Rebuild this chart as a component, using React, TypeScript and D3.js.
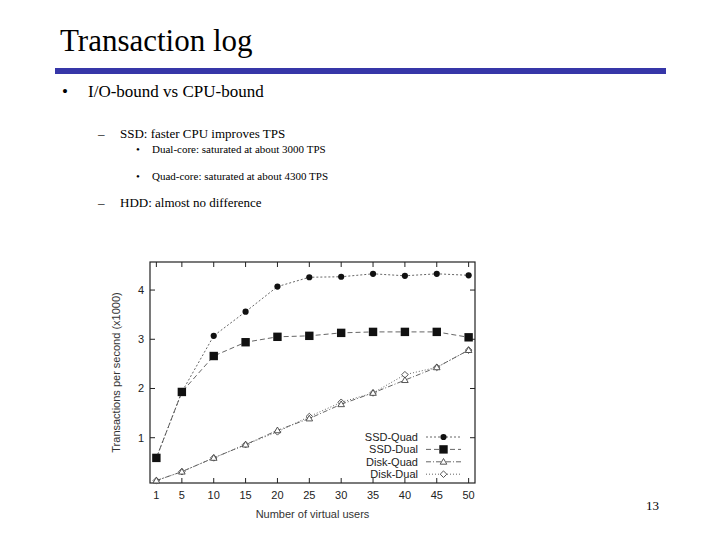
import * as d3 from "d3";
import { useEffect, useRef } from "react";

const users = [1, 5, 10, 15, 20, 25, 30, 35, 40, 45, 50];
const ssdQuad = [0.59, 1.93, 3.07, 3.56, 4.07, 4.26, 4.27, 4.33, 4.29, 4.33, 4.3];
const ssdDual = [0.59, 1.93, 2.66, 2.94, 3.05, 3.07, 3.13, 3.15, 3.15, 3.15, 3.04];
const diskQuad = [0.13, 0.31, 0.59, 0.86, 1.15, 1.39, 1.68, 1.91, 2.17, 2.43, 2.78];
const diskDual = [0.13, 0.31, 0.59, 0.86, 1.12, 1.43, 1.72, 1.91, 2.28, 2.43, 2.78];
const yTicks = [1, 2, 3, 4];

const series = [
  { name: "SSD-Quad", values: ssdQuad, marker: "circle", dash: "2 2" },
  { name: "SSD-Dual", values: ssdDual, marker: "square", dash: "5 3" },
  { name: "Disk-Quad", values: diskQuad, marker: "triangle", dash: "5 2 1 2" },
  { name: "Disk-Dual", values: diskDual, marker: "diamond", dash: "1 2" },
];

const bullets = [
  { level: 0, text: "I/O-bound vs CPU-bound" },
  { level: 1, text: "SSD: faster CPU improves TPS" },
  { level: 2, text: "Dual-core: saturated at about 3000 TPS" },
  { level: 2, text: "Quad-core: saturated at about 4300 TPS" },
  { level: 1, text: "HDD: almost no difference" },
];

export default function App() {
  const ref = useRef<SVGSVGElement>(null);

  useEffect(() => {
    if (!ref.current) return;
    const svg = d3.select(ref.current);
    svg.selectAll("*").remove();

    svg.append("rect").attr("width", 720).attr("height", 540).attr("fill", "#fff");

    const serif = "'Liberation Serif', 'DejaVu Serif', serif";
    const sans = "'Liberation Sans', Arial, sans-serif";

    // Slide title and rule
    svg.append("text").attr("x", 60).attr("y", 51).attr("font-family", serif).attr("font-size", 31).attr("fill", "#000").text("Transaction log");
    svg.append("rect").attr("x", 55).attr("y", 68).attr("width", 611).attr("height", 6).attr("fill", "#3636a8");

    // Bullets
    const lv = [
      { bx: 62, tx: 88, size: 17, mark: "•" },
      { bx: 98, tx: 120, size: 13, mark: "–" },
      { bx: 136, tx: 152, size: 11, mark: "•" },
    ];
    const ys = [97, 138, 153, 180, 207];
    bullets.forEach((b, i) => {
      const l = lv[b.level];
      svg.append("text").attr("x", l.bx).attr("y", ys[i]).attr("font-family", serif).attr("font-size", l.size).text(l.mark);
      svg.append("text").attr("x", l.tx).attr("y", ys[i]).attr("font-family", serif).attr("font-size", l.size).text(b.text);
    });

    // Chart
    const left = 150, right = 475, top = 262, bottom = 483;
    const x = d3.scaleLinear().domain([0, 51]).range([left, right]);
    const y = d3.scaleLinear().domain([0.08, 4.57]).range([bottom, top]);

    const g = svg.append("g");
    g.append("rect").attr("x", left).attr("y", top).attr("width", right - left).attr("height", bottom - top)
      .attr("fill", "none").attr("stroke", "#222").attr("stroke-width", 1.2);

    const tl = 5;
    users.forEach(u => {
      g.append("line").attr("x1", x(u)).attr("x2", x(u)).attr("y1", bottom).attr("y2", bottom - tl).attr("stroke", "#222");
      g.append("line").attr("x1", x(u)).attr("x2", x(u)).attr("y1", top).attr("y2", top + tl).attr("stroke", "#222");
      g.append("text").attr("x", x(u)).attr("y", bottom + 16).attr("text-anchor", "middle")
        .attr("font-family", sans).attr("font-size", 11).attr("fill", "#222").text(u);
    });
    yTicks.forEach(t => {
      g.append("line").attr("x1", left).attr("x2", left + tl).attr("y1", y(t)).attr("y2", y(t)).attr("stroke", "#222");
      g.append("line").attr("x1", right).attr("x2", right - tl).attr("y1", y(t)).attr("y2", y(t)).attr("stroke", "#222");
      g.append("text").attr("x", left - 6).attr("y", y(t) + 4).attr("text-anchor", "end")
        .attr("font-family", sans).attr("font-size", 11).attr("fill", "#222").text(t);
    });

    g.append("text").attr("x", x(25.5)).attr("y", 518).attr("text-anchor", "middle")
      .attr("font-family", sans).attr("font-size", 11).attr("fill", "#333").text("Number of virtual users");
    g.append("text").attr("transform", `translate(120,${(top + bottom) / 2}) rotate(-90)`).attr("text-anchor", "middle")
      .attr("font-family", sans).attr("font-size", 11).attr("fill", "#333").text("Transactions per second (x1000)");

    const drawMarker = (sel: d3.Selection<SVGGElement, unknown, null, undefined>, m: string, cx: number, cy: number) => {
      if (m === "circle") sel.append("circle").attr("cx", cx).attr("cy", cy).attr("r", 3.1).attr("fill", "#111");
      else if (m === "square") sel.append("rect").attr("x", cx - 4.2).attr("y", cy - 4.2).attr("width", 8.4).attr("height", 8.4).attr("fill", "#111");
      else if (m === "triangle")
        sel.append("path").attr("d", `M${cx},${cy - 3.3}L${cx + 3.3},${cy + 2.4}L${cx - 3.3},${cy + 2.4}Z`)
          .attr("fill", "#fff").attr("stroke", "#444").attr("stroke-width", 0.9);
      else
        sel.append("path").attr("d", `M${cx},${cy - 3.3}L${cx + 3.3},${cy}L${cx},${cy + 3.3}L${cx - 3.3},${cy}Z`)
          .attr("fill", "#fff").attr("stroke", "#444").attr("stroke-width", 0.9);
    };

    const line = d3.line<number>().x((_, i) => x(users[i])).y(d => y(d));
    series.slice().reverse().forEach(s => {
      const sg = g.append("g");
      sg.append("path").attr("d", line(s.values)).attr("fill", "none").attr("stroke", "#555")
        .attr("stroke-width", 0.9).attr("stroke-dasharray", s.dash);
      s.values.forEach((v, i) => drawMarker(sg, s.marker, x(users[i]), y(v)));
    });

    // Legend
    series.forEach((s, i) => {
      const ly = 437 + i * 12.4;
      const lg = g.append("g");
      lg.append("text").attr("x", 418).attr("y", ly + 4).attr("text-anchor", "end")
        .attr("font-family", sans).attr("font-size", 11).attr("fill", "#222").text(s.name);
      lg.append("line").attr("x1", 426).attr("x2", 461).attr("y1", ly).attr("y2", ly)
        .attr("stroke", "#555").attr("stroke-width", 0.9).attr("stroke-dasharray", s.dash);
      drawMarker(lg, s.marker, 443.5, ly);
    });

    svg.append("text").attr("x", 659).attr("y", 510).attr("text-anchor", "end")
      .attr("font-family", serif).attr("font-size", 13).text("13");
  }, []);

  return <svg ref={ref} width={720} height={540} style={{ position: "absolute", left: 0, top: 0, display: "block" }} />;
}
